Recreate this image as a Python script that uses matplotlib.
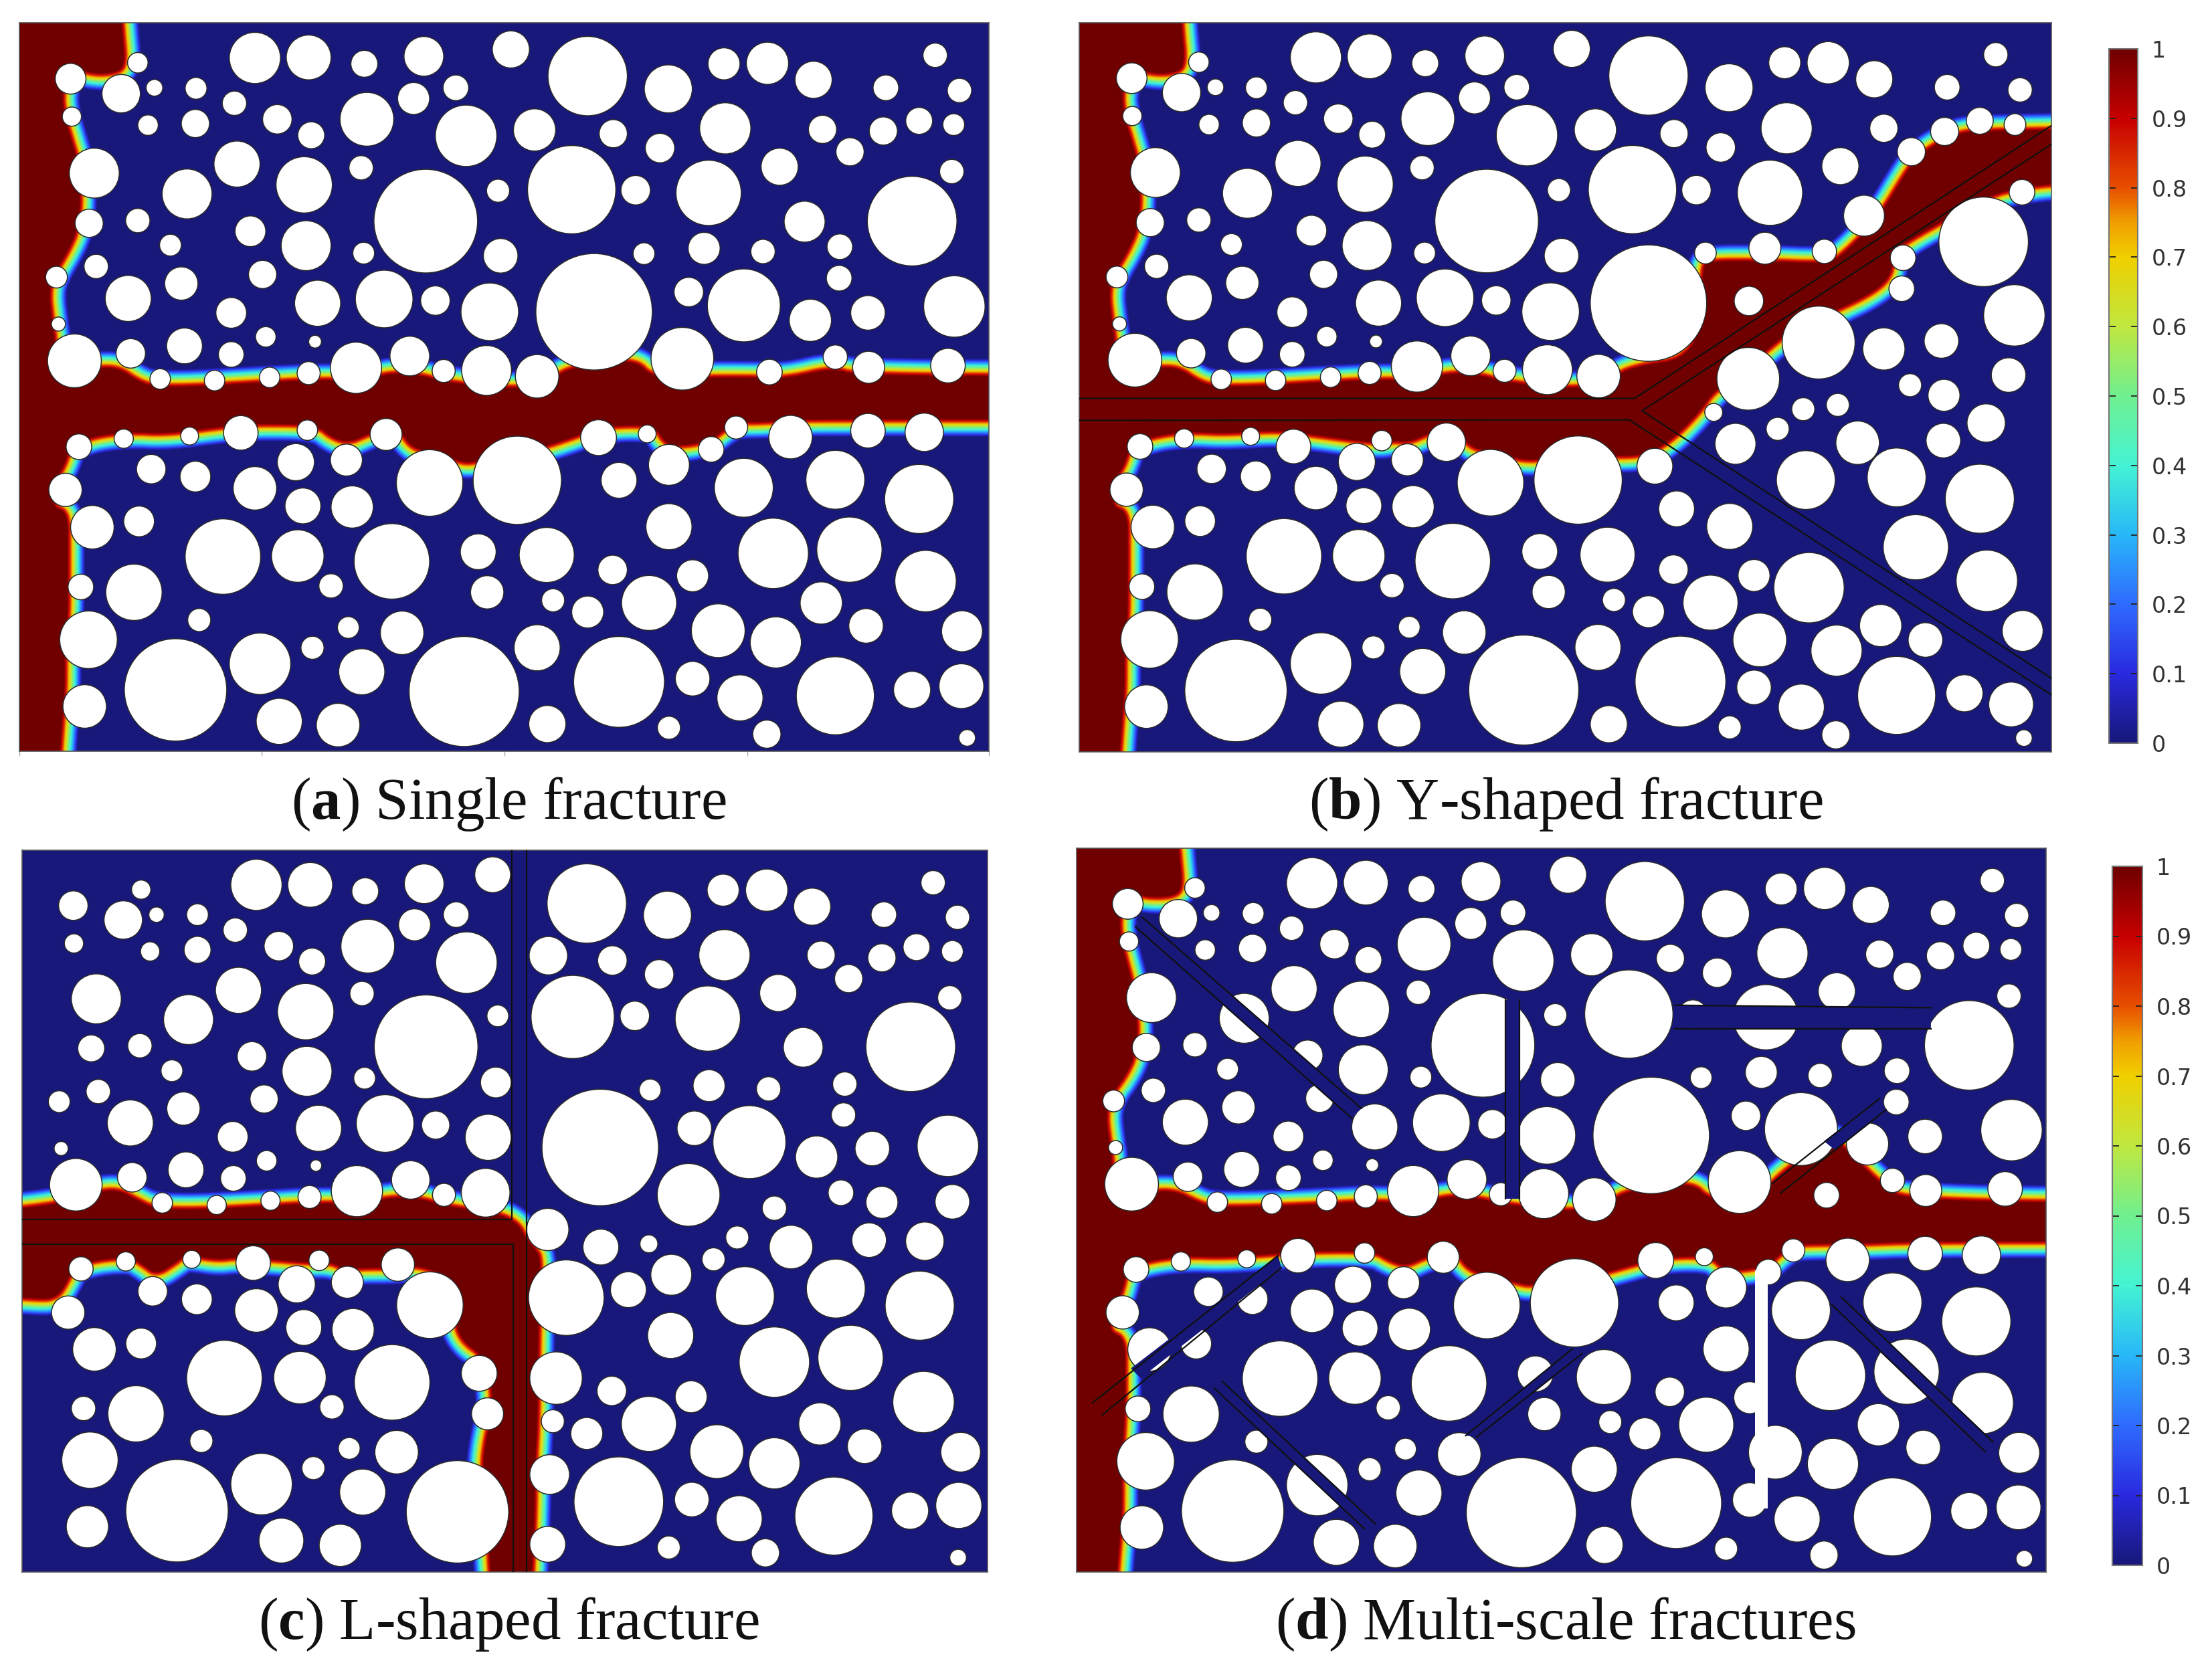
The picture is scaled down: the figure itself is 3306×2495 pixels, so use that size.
import matplotlib
matplotlib.use('Agg')
import numpy as np
import matplotlib.pyplot as plt
from matplotlib.colors import LinearSegmentedColormap
from matplotlib.patches import Ellipse, Polygon

W, H = 3306, 2495

circles_a = [
    (398,108,80),(482,107,70),(569,119,42),(662,105,62),(798,92,58),(918,142,124),(1044,166,75),(1131,119,50),
    (1199,118,66),(1271,149,58),(1461,103,38),(1384,164,40),(1499,169,38),(215,117,32),(110,147,48),(189,175,60),
    (241,164,26),(306,165,34),(366,193,38),(712,164,40),(646,184,50),(573,223,84),(433,223,46),(486,253,42),
    (305,231,44),(231,234,32),(112,218,30),(728,254,96),(835,243,66),(958,250,44),(1031,277,46),(1133,240,80),
    (1285,242,44),(1380,245,44),(1436,226,42),(1490,233,34),(1328,284,44),(1218,312,58),(1487,321,38),(147,324,78),
    (370,307,72),(292,363,78),(475,346,88),(564,314,38),(665,414,162),(778,357,36),(893,355,138),(993,356,46),
    (1107,361,102),(1425,414,140),(1257,415,64),(139,418,44),(215,413,38),(391,433,48),(478,460,78),(266,459,34),
    (1312,462,40),(1192,471,38),(1100,465,50),(1006,475,34),(782,479,54),(568,474,34),(150,499,38),(88,519,34),
    (410,514,44),(283,531,52),(1311,521,40),(200,559,72),(928,584,182),(1162,572,114),(1076,547,46),(496,568,72),
    (600,560,90),(680,563,46),(765,584,90),(361,586,48),(1266,600,66),(1356,586,54),(1491,574,96),(91,607,22),
    (415,631,32),(492,640,20),(288,648,56),(204,662,46),(361,664,40),(116,676,84),(1066,672,98),(640,667,62),
    (556,689,80),(693,695,36),(760,694,78),(839,705,68),(482,699,36),(421,707,32),(335,713,32),(250,710,32),
    (1202,697,40),(1305,669,38),(1357,688,50),(1481,685,54),(376,811,54),(480,806,32),(603,814,50),(193,822,30),
    (296,817,28),(123,837,40),(935,820,56),(1011,813,28),(1150,801,36),(1235,819,68),(1356,807,54),(1444,810,60),
    (1111,842,40),(541,862,50),(462,866,58),(1045,871,64),(236,879,46),(305,893,48),(398,915,68),(102,918,52),
    (671,905,104),(808,900,138),(967,900,56),(1162,914,92),(1305,899,92),(1436,935,108),(473,948,56),(550,950,66),
    (1045,987,72),(217,977,48),(144,988,68),(348,1043,118),(465,1042,82),(612,1052,118),(747,1034,56),(854,1040,86),
    (1208,1037,110),(1327,1030,102),(1446,1089,96),(957,1068,46),(1082,1079,50),(209,1110,88),(126,1100,40),
    (517,1098,38),(761,1110,52),(864,1125,36),(1014,1130,86),(1283,1130,66),(918,1147,50),(1122,1182,84),
    (1212,1204,80),(1353,1173,54),(1503,1183,64),(311,1162,36),(544,1176,34),(628,1186,68),(138,1199,90),
    (839,1214,72),(488,1214,36),(406,1244,96),(274,1293,160),(565,1259,72),(725,1296,172),(967,1278,142),
    (1082,1272,54),(1156,1308,72),(1305,1304,122),(1425,1293,58),(1502,1286,70),(132,1324,68),(436,1352,72),
    (528,1359,68),(855,1357,58),(1045,1364,36),(1198,1376,44),(1511,1383,26),
]

circles_b = [
    (400,107,80),(484,105,70),(571,118,42),(664,104,62),(800,91,58),(920,141,124),(1046,164,75),(1133,117,50),
    (1201,117,66),(1273,148,58),(1463,102,38),(1387,163,40),(1501,168,38),(217,116,32),(112,146,48),(190,173,60),
    (243,163,26),(307,164,34),(368,192,38),(714,163,40),(648,183,50),(575,222,84),(435,222,46),(488,252,42),
    (307,230,44),(233,233,32),(113,217,30),(730,253,96),(837,243,66),(960,250,44),(1033,276,46),(1136,240,80),
    (1288,240,44),(1383,246,44),(1438,226,42),(1493,233,34),(1331,284,44),(1220,311,58),(1504,360,40),(149,323,78),
    (372,306,72),(293,362,78),(477,345,88),(566,314,38),(667,414,162),(780,356,36),(895,355,138),(995,356,46),
    (1110,361,102),(1444,453,140),(1257,404,64),(141,417,44),(217,412,38),(393,432,48),(480,460,78),(268,458,34),
    (1318,483,40),(1195,471,38),(1102,465,50),(1009,474,34),(784,479,54),(570,474,34),(151,499,38),(89,519,34),
    (412,514,44),(285,530,52),(1316,541,40),(202,558,72),(920,568,182),(1186,642,114),(1077,564,46),(498,568,72),
    (602,558,90),(682,563,46),(767,584,90),(363,585,48),(1288,654,66),(1378,639,54),(1492,591,96),(93,607,22),
    (417,631,32),(494,640,20),(290,647,56),(205,662,46),(363,664,40),(117,675,84),(1076,710,98),(642,667,62),
    (558,687,80),(695,695,36),(762,693,78),(842,705,68),(484,699,36),(423,707,32),(337,713,32),(252,711,32),
    (1329,722,36),(1382,741,50),(1483,703,54),(365,837,54),(503,826,32),(604,829,60),(194,822,30),(298,818,28),
    (125,837,40),(930,874,56),(1022,773,28),(1162,767,36),(1216,759,36),(1122,804,36),(1247,830,68),(1381,826,54),
    (1448,793,60),(1056,832,64),(543,862,50),(464,866,58),(237,879,46),(306,893,48),(400,915,68),(104,918,52),
    (673,905,104),(810,900,138),(964,954,56),(1166,900,92),(1308,895,92),(1438,935,108),(475,948,56),(552,950,66),
    (1047,987,72),(219,977,48),(145,988,68),(350,1043,118),(467,1042,82),(614,1052,118),(750,1034,56),(856,1040,86),
    (1171,1102,110),(1338,1026,102),(1449,1089,96),(959,1068,46),(1085,1079,50),(211,1110,88),(128,1100,40),
    (519,1098,38),(764,1110,52),(866,1125,36),(1017,1130,86),(1283,1173,66),(920,1147,50),(1094,1200,84),
    (1214,1220,80),(1353,1200,54),(1505,1183,64),(313,1162,36),(546,1176,34),(632,1186,68),(140,1199,90),
    (841,1214,72),(490,1214,36),(408,1244,96),(275,1295,160),(567,1259,72),(725,1294,172),(970,1278,142),
    (1085,1289,54),(1159,1326,72),(1308,1304,122),(1414,1300,58),(1487,1321,70),(135,1325,68),(439,1358,72),
    (530,1360,68),(858,1358,58),(1047,1364,36),(1213,1378,44),(1507,1384,26),
]

circles_c = [
    (401,107,80),(485,107,70),(571,119,42),(663,105,62),(770,88,56),(221,116,30),(115,146,46),(193,173,60),
    (245,163,24),(309,163,34),(368,192,38),(713,163,40),(648,182,50),(575,222,84),(436,222,46),(488,251,42),
    (309,229,42),(235,232,30),(116,217,30),(729,253,96),(566,311,38),(373,305,72),(151,321,78),(295,360,78),
    (478,345,88),(666,411,162),(778,353,34),(143,414,42),(219,409,38),(394,429,46),(480,457,78),(269,456,34),
    (570,470,34),(775,478,48),(154,495,38),(93,514,34),(413,509,44),(287,527,52),(204,554,72),(498,564,72),
    (602,555,90),(681,558,44),(763,581,72),(364,580,48),(96,602,22),(417,625,32),(494,634,18),(291,642,56),
    (207,656,46),(365,658,40),(119,670,82),(642,661,60),(558,682,80),(694,689,36),(759,685,76),(484,693,36),
    (423,700,30),(339,708,30),(254,704,32),(917,142,124),(1043,164,75),(1130,117,50),(1198,117,66),(1269,148,58),
    (1458,103,38),(1381,163,40),(1496,168,38),(857,240,60),(957,249,46),(1030,275,46),(1132,239,80),(1283,239,44),
    (1378,244,44),(1432,224,42),(1488,232,34),(1326,283,44),(1216,310,58),(1484,319,38),(895,355,130),(992,353,46),
    (1106,358,102),(1423,411,140),(1255,412,62),(1320,481,38),(1201,490,38),(1108,484,50),(1016,492,34),(1318,539,38),
    (1085,564,54),(938,600,182),(1171,590,114),(1276,618,66),(1363,602,54),(1481,597,96),(1076,689,98),(1210,714,38),
    (1314,685,40),(1378,703,50),(1488,702,54),(856,754,66),(939,787,56),(1014,781,28),(1152,769,36),(1115,810,36),
    (1236,787,68),(1358,774,54),(1445,776,60),(396,817,54),(499,812,32),(622,820,52),(197,814,30),(300,810,28),
    (127,828,38),(1049,839,64),(543,853,50),(464,857,58),(239,870,46),(308,885,48),(982,867,56),(401,906,68),
    (107,910,52),(672,896,104),(885,882,118),(1164,879,92),(1306,865,92),(1437,897,108),(475,938,56),(552,942,66),
    (1048,953,72),(221,968,48),(148,979,68),(351,1033,118),(469,1032,82),(613,1041,118),(749,1024,56),(869,1033,82),
    (1210,1003,110),(1329,995,102),(1443,1078,96),(956,1057,46),(1080,1068,50),(213,1100,88),(131,1090,38),
    (519,1087,38),(762,1100,50),(864,1114,36),(1014,1119,86),(1281,1119,66),(917,1137,50),(1120,1171,84),
    (1210,1193,80),(1351,1161,54),(1501,1172,62),(315,1151,36),(546,1165,34),(620,1172,68),(141,1187,88),
    (859,1214,62),(490,1202,36),(409,1232,96),(277,1282,160),(567,1247,72),(715,1284,160),(967,1265,140),
    (1081,1261,54),(1155,1297,72),(1303,1292,122),(1422,1282,58),(1498,1272,72),(137,1312,66),(440,1338,70),
    (532,1347,66),(856,1345,56),(1045,1351,36),(1196,1361,44),(1497,1370,26),
]

# panel (d) has the same inclusions as (a), its y axis just reads 25..1500 instead of 42..1408
circles_d = [(x, 25 + (y - 42) * 1.0798, d) for x, y, d in circles_a]

# saturated region outlines, running past the panel edge where the region leaves it
red_a = [(-150,-150),(178,-150),(190,60),(194,110),(188,133),(150,138),(112,125),(95,170),(100,220),(110,260),(120,300),
         (125,370),(120,430),(105,470),(85,510),(75,545),(80,600),(85,640),(85,690),(150,690),(185,690),(215,715),
         (240,725),(300,725),(400,718),(500,712),(560,715),(610,700),(650,702),(700,718),(800,730),(860,720),
         (885,690),(990,672),(1020,710),(1100,708),(1180,708),(1230,710),(1300,690),(1340,705),(1800,705),
         (1800,785),(1350,785),(1250,785),(1190,790),(1150,790),(1130,805),(1110,825),(1065,835),(1040,830),
         (1025,800),(990,795),(935,800),(880,825),(810,850),(740,865),(720,865),(680,845),(645,840),(625,805),
         (600,800),(570,815),(545,828),(520,820),(495,795),(400,793),(350,798),(260,812),(200,808),(140,818),
         (108,838),(100,870),(85,900),(80,950),(105,960),(105,1030),(105,1100),(105,1150),(100,1220),(100,1300),
         (95,1360),(80,1650),(-150,1650)]
red_b = [(-150,-150),(178,-150),(190,60),(194,110),(188,133),(150,138),(112,125),(95,170),(100,220),(110,260),(120,300),
         (125,370),(120,430),(105,470),(85,510),(75,545),(80,600),(85,640),(85,690),(150,690),(185,690),(215,715),
         (240,725),(300,725),(400,718),(500,712),(560,715),(610,700),(650,702),(700,718),(800,730),(860,720),
         (885,690),(1000,670),(1005,500),(1015,490),(1100,490),(1200,495),(1225,478),(1280,410),(1330,310),
         (1350,285),(1400,250),(1450,245),(1800,240),(1800,340),(1500,340),(1400,400),(1340,440),(1300,470),
         (1300,510),(1280,540),(1225,575),(1150,610),(1120,640),(1040,720),(1020,735),(1000,770),(960,820),
         (920,850),(880,855),(810,850),(730,865),(680,845),(645,840),(625,810),(600,800),(570,815),(545,828),
         (520,825),(495,830),(400,815),(340,805),(260,812),(200,808),(140,818),(108,838),(100,870),(85,900),
         (80,950),(105,960),(105,1030),(105,1100),(105,1150),(100,1220),(100,1300),(95,1360),(80,1650),(-150,1650)]
red_c = [(-150,735),(90,710),(150,685),(185,680),(215,700),(240,715),(300,718),(400,712),(500,705),(560,708),(610,695),
         (650,695),(700,712),(780,725),(810,745),(820,770),(835,790),(845,810),(840,950),(840,1100),(835,1200),
         (835,1300),(820,1650),(780,1650),(765,1340),(760,1280),(755,1200),(760,1150),(770,1100),(770,1050),
         (755,990),(725,965),(712,930),(720,870),(690,835),(650,820),(620,825),(560,825),(540,830),(520,815),
         (480,815),(430,810),(370,805),(340,810),(290,800),(275,815),(245,838),(225,820),(205,805),(150,810),
         (115,825),(105,850),(90,880),(60,885),(-150,860)]
red_d = [(-150,-150),(178,-150),(190,45),(194,95),(188,120),(150,125),(112,115),(95,165),(100,220),(110,270),(120,320),
         (125,400),(120,450),(105,490),(85,525),(75,565),(80,620),(85,660),(85,730),(150,725),(185,725),(215,745),
         (240,757),(300,757),(400,752),(500,745),(560,752),(610,735),(650,737),(700,752),(800,767),(860,755),
         (885,725),(990,705),(1020,745),(1100,745),(1120,700),(1205,620),(1215,620),(1240,650),(1290,715),(1330,745),
         (1800,750),(1800,825),(1350,825),(1250,830),(1190,830),(1150,832),(1130,850),(1110,875),(1065,885),
         (1040,880),(1025,860),(990,855),(935,860),(880,880),(810,905),(740,915),(720,910),(680,895),(645,885),
         (625,850),(600,845),(570,860),(545,875),(520,865),(495,845),(400,845),(350,850),(260,858),(200,855),
         (140,865),(108,885),(100,930),(85,975),(80,1010),(105,1025),(105,1100),(105,1170),(100,1270),(100,1400),
         (95,1450),(80,1750),(-150,1750)]

# fracture edges
lines_b = [[(30,747),(898,747),(1550,235)],[(30,788),(890,787),(1550,1303)],[(1550,270),(910,770),(1550,1272)]]
lines_c = [[(35,735),(800,735),(800,42)],[(35,782),(802,782),(802,1397)],[(823,42),(823,1397)]]
lines_d = [[(132,165),(475,555)],[(122,185),(460,575)],[(700,335),(700,740)],[(722,335),(722,740)],
           [(965,345),(1365,350)],[(965,393),(1365,393)],[(1285,535),(1117,708)],[(1295,558),(1130,728)],
           [(345,855),(55,1155)],[(350,880),(70,1180)],[(258,1112),(497,1402)],[(245,1125),(480,1412)],
           [(805,1045),(638,1222)],[(820,1055),(655,1225)],[(1225,940),(1462,1235)],[(1210,955),(1450,1255)]]
# strips of panel (d): blue ones cut through the inclusions
strips_blue_d = [[(132,165),(475,555),(460,575),(122,185)],[(700,335),(722,335),(722,740),(700,740)],
                 [(965,345),(1365,350),(1365,393),(965,393)],[(1285,535),(1295,558),(1215,640),(1198,622)],
                 [(345,855),(350,880),(130,1105),(115,1085)],[(258,1112),(497,1402),(480,1412),(245,1125)],
                 [(805,1045),(820,1055),(655,1225),(638,1222)],[(1225,940),(1462,1235),(1450,1255),(1210,955)]]
strips_white_d = [[(1090,885),(1110,885),(1110,1370),(1090,1370)]]

cbar_ticks = [0, 0.1, 0.2, 0.3, 0.4, 0.5, 0.6, 0.7, 0.8, 0.9, 1]
cbar_labels = ['0', '0.1', '0.2', '0.3', '0.4', '0.5', '0.6', '0.7', '0.8', '0.9', '1']

cmap = LinearSegmentedColormap.from_list('field', [
    (0.0, '#18187a'), (0.1, '#2a2ae0'), (0.2, '#2f6cff'), (0.3, '#28b8f8'), (0.4, '#44f4d4'), (0.5, '#70f090'),
    (0.6, '#c0e840'), (0.7, '#f0d000'), (0.75, '#f0a000'), (0.8, '#e85000'), (0.9, '#c80000'), (1.0, '#700000')])

plt.rcParams['mathtext.fontset'] = 'custom'
plt.rcParams['mathtext.bf'] = 'Liberation Serif:bold'
plt.rcParams['mathtext.rm'] = 'Liberation Serif'


def add_axes_px(fig, x0, y0, x1, y1):
    return fig.add_axes([x0 / W, 1 - y1 / H, (x1 - x0) / W, (y1 - y0) / H])


def rounded(pts, n=3):
    # corner cutting, the traced outlines are only a few dozen points
    p = np.array(pts, dtype=float)
    for _ in range(n):
        q = np.roll(p, -1, axis=0)
        p = np.column_stack([0.75 * p + 0.25 * q, 0.25 * p + 0.75 * q]).reshape(-1, 2)
    return p


def draw_panel(fig, box, xlim, ylim, red, circles, lines=(), blue=(), white=()):
    ax = add_axes_px(fig, *box)
    ax.set_xlim(*xlim)
    ax.set_ylim(*ylim)
    ax.set_facecolor(cmap(0.0))
    ax.set_xticks([])
    ax.set_yticks([])
    for s in ax.spines.values():
        s.set_color('#555555')
        s.set_linewidth(1.2)
    sx = (xlim[1] - xlim[0]) / (box[2] - box[0])
    sy = (ylim[0] - ylim[1]) / (box[3] - box[1])

    # nested strokes give the smooth front around the saturated region
    outline = rounded(red)
    for v in np.linspace(0.02, 1, 40):
        dist_px = (1 - v) * 27
        ax.add_patch(Polygon(outline, closed=True, facecolor=cmap(v), edgecolor=cmap(v),
                             linewidth=2 * dist_px * 0.72, joinstyle='round', zorder=2))
    for x, y, d in circles:
        ax.add_patch(Ellipse((x, y), d, d / sx * sy, facecolor='white', edgecolor='#2a2a2a', linewidth=1.1, zorder=3))
    for q in blue:
        ax.add_patch(Polygon(q, closed=True, facecolor=cmap(0.0), edgecolor='none', zorder=4))
    for q in white:
        ax.add_patch(Polygon(q, closed=True, facecolor='white', edgecolor='none', zorder=4))
    for pts in lines:
        pts = np.array(pts)
        ax.plot(pts[:, 0], pts[:, 1], color='#101010', lw=1.6, zorder=5)
    return ax


def draw_cbar(fig, box):
    ax = add_axes_px(fig, *box)
    ax.imshow(np.linspace(1, 0, 256)[:, None], cmap=cmap, aspect='auto', extent=(0, 1, 0, 1), vmin=0, vmax=1)
    ax.set_xticks([])
    ax.yaxis.tick_right()
    ax.set_yticks(cbar_ticks)
    ax.set_yticklabels(cbar_labels, fontsize=24, color='#333333')
    ax.tick_params(axis='y', direction='in', left=True, right=True, length=7, width=1.3, color='#222222', pad=15)
    for s in ax.spines.values():
        s.set_color('#777777')
        s.set_linewidth(1.5)


fig = plt.figure(figsize=(W / 100, H / 100), dpi=100)

ax_a = draw_panel(fig, (29, 34, 1478, 1123), (30, 1545), (1408, 42), red_a, circles_a)
ax_a.set_xticks([30, 408, 788, 1168, 1545])
ax_a.set_xticklabels([])
ax_a.tick_params(axis='x', length=5, width=1, color='#aaaaaa')
draw_panel(fig, (1613, 34, 3066, 1124), (30, 1550), (1410, 42), red_b, circles_b, lines_b)
draw_panel(fig, (33, 1271, 1476, 2350), (35, 1543), (1397, 42), red_c, circles_c, lines_c)
draw_panel(fig, (1609, 1268, 3058, 2350), (30, 1545), (1500, 25), red_d, circles_d, lines_d,
           strips_blue_d, strips_white_d)

draw_cbar(fig, (3152, 73, 3195, 1111))
draw_cbar(fig, (3157, 1295, 3202, 2340))

captions = [(760, 1202, r'($\mathbf{a}$) Single fracture'), (2340, 1202, r'($\mathbf{b}$) Y-shaped fracture'),
            (760, 2428, r'($\mathbf{c}$) L-shaped fracture'), (2340, 2428, r'($\mathbf{d}$) Multi-scale fractures')]
for x, y, s in captions:
    fig.text(x / W, 1 - y / H, s, ha='center', va='center', fontsize=64, family='Liberation Serif', color='#111111')

fig.savefig('out.png', dpi=100)
